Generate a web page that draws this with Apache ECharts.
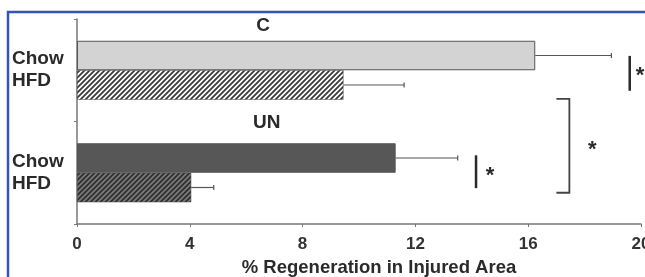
<!DOCTYPE html>
<html>
<head>
<meta charset="utf-8">
<script src="https://cdn.jsdelivr.net/npm/echarts@6/dist/echarts.min.js"></script>
<style>
  html, body { margin: 0; padding: 0; background: #fff; }
  #chart { width: 645px; height: 277px; }
</style>
</head>
<body>
<div id="chart"></div>
<script>
// groups top to bottom
const groups = ['C', 'UN'];
const chowMean = [16.25, 11.3];
const chowErr = [2.7, 2.2];
const hfdMean = [9.45, 4.05];
const hfdErr = [2.15, 0.8];
const xTicks = [0, 4, 8, 12, 16, 20];

// significance marks, x in %, y in category units (index + fraction of band)
const sigBars = [[19.6, -0.14, 0.2], [14.15, 0.83, 1.15]];
const sigStars = [[19.97, 0.03], [14.65, 1.0], [18.27, 0.75]];
const sigBracket = [[17.0, 17.46, 0.28, 1.195]];
const groupTitles = [[6.6, -0.43, 'C'], [6.73, 0.515, 'UN']];

const barW = 29.5;
const font = '"Liberation Sans", Arial, sans-serif';

function hatch(bg, fg) {
  const c = document.createElement('canvas');
  c.width = 5; c.height = 5;
  const g = c.getContext('2d');
  g.fillStyle = bg;
  g.fillRect(0, 0, 5, 5);
  g.strokeStyle = fg;
  g.lineWidth = 1.8;
  g.beginPath();
  g.moveTo(-1, 6); g.lineTo(6, -1);
  g.moveTo(-1, 1); g.lineTo(1, -1);
  g.moveTo(4, 6); g.lineTo(6, 4);
  g.stroke();
  return c;
}

const chowColors = ['#d3d3d3', '#575757'];
const hfdColors = [
  {image: hatch('#ffffff', '#3a3a3a'), repeat: 'repeat'},
  {image: hatch('#2e2e2e', '#7a7a7a'), repeat: 'repeat'}
];

const errData = [];
groups.forEach((g, i) => {
  errData.push([i, chowMean[i], chowErr[i], 0]);
  errData.push([i, hfdMean[i], hfdErr[i], 1]);
});

// category axis snaps to whole indices, so add the fraction of the band by hand
function place(api, x, yCat) {
  const base = Math.round(yCat);
  const p = api.coord([x, base]);
  return [p[0], p[1] + (yCat - base) * api.size([0, 1])[1]];
}

const chart = echarts.init(document.getElementById('chart'));

const option = {
  animation: false,
  backgroundColor: '#fff',
  grid: {left: 77, right: 4, top: 19, bottom: 53, containLabel: false, outerBoundsMode: 'none'},
  xAxis: {
    type: 'value',
    min: 0,
    max: 20,
    interval: 4,
    axisLine: {show: true, lineStyle: {color: '#777', width: 1.5}},
    axisTick: {show: true, length: 3, lineStyle: {color: '#777'}},
    splitLine: {show: false},
    axisLabel: {
      margin: 12,
      color: '#333',
      fontFamily: font,
      fontWeight: 'bold',
      fontSize: 17
    }
  },
  yAxis: {
    type: 'category',
    data: groups,
    inverse: true,
    axisLine: {show: true, lineStyle: {color: '#777', width: 1.5}},
    axisTick: {show: true, length: 3, lineStyle: {color: '#777'}},
    axisLabel: {
      formatter: () => 'Chow\nHFD',
      align: 'left',
      margin: 65,
      color: '#2a2a2a',
      fontFamily: font,
      fontWeight: 'bold',
      fontSize: 19,
      lineHeight: 22
    }
  },
  graphic: [
    {
      type: 'rect',
      shape: {x: 8, y: 12, width: 700, height: 300},
      style: {fill: null, stroke: '#3553b3', lineWidth: 2.5},
      silent: true
    },
    {
      type: 'text',
      x: 379,
      y: 268,
      style: {
        text: '% Regeneration in Injured Area',
        font: 'bold 18.5px ' + font,
        fill: '#2a2a2a',
        align: 'center',
        verticalAlign: 'middle'
      }
    }
  ],
  series: [
    {
      name: 'Chow',
      type: 'bar',
      barWidth: barW,
      barGap: '0%',
      data: chowMean.map((v, i) => ({
        value: v,
        itemStyle: {color: chowColors[i], borderColor: '#555', borderWidth: 1}
      }))
    },
    {
      name: 'HFD',
      type: 'bar',
      barWidth: barW,
      barGap: '0%',
      data: hfdMean.map((v, i) => ({
        value: v,
        itemStyle: {color: hfdColors[i], borderColor: '#444', borderWidth: 0.5}
      }))
    },
    {
      // error bars, right side only
      type: 'custom',
      data: errData,
      encode: {x: 1, y: 0},
      z: 3,
      renderItem: (params, api) => {
        const cat = api.value(0);
        const mean = api.value(1);
        const err = api.value(2);
        const slot = api.value(3);
        const p0 = api.coord([mean, cat]);
        const p1 = api.coord([mean + err, cat]);
        const dy = slot === 0 ? -barW / 2 : barW / 2;
        const y = p0[1] + dy;
        return {
          type: 'group',
          children: [
            {type: 'line', shape: {x1: p0[0], y1: y, x2: p1[0], y2: y},
              style: {stroke: '#555', lineWidth: 1.2}},
            {type: 'line', shape: {x1: p1[0], y1: y - 2.5, x2: p1[0], y2: y + 2.5},
              style: {stroke: '#555', lineWidth: 1.2}}
          ]
        };
      }
    },
    {
      // significance bars
      type: 'custom',
      data: sigBars,
      encode: {x: 0},
      renderItem: (params, api) => {
        const d = sigBars[params.dataIndex];
        const a = place(api, d[0], d[1]);
        const b = place(api, d[0], d[2]);
        return {type: 'line', shape: {x1: a[0], y1: a[1], x2: b[0], y2: b[1]},
          style: {stroke: '#2a2a2a', lineWidth: 2.5}};
      }
    },
    {
      // bracket between groups
      type: 'custom',
      data: sigBracket,
      encode: {x: 0},
      renderItem: (params, api) => {
        const d = sigBracket[params.dataIndex];
        const pts = [
          place(api, d[0], d[2]),
          place(api, d[1], d[2]),
          place(api, d[1], d[3]),
          place(api, d[0], d[3])
        ];
        return {type: 'polyline', shape: {points: pts},
          style: {stroke: '#444', lineWidth: 1.8, fill: null}};
      }
    },
    {
      // stars
      type: 'custom',
      data: sigStars,
      encode: {x: 0},
      renderItem: (params, api) => {
        const d = sigStars[params.dataIndex];
        const p = place(api, d[0], d[1]);
        return {type: 'text', x: p[0], y: p[1] + 3,
          style: {text: '*', font: 'bold 22px ' + font, fill: '#2a2a2a',
            align: 'center', verticalAlign: 'middle'}};
      }
    },
    {
      // group titles
      type: 'custom',
      data: groupTitles,
      encode: {x: 0},
      renderItem: (params, api) => {
        const d = groupTitles[params.dataIndex];
        const p = place(api, d[0], d[1]);
        return {type: 'text', x: p[0], y: p[1],
          style: {text: d[2], font: 'bold 19px ' + font, fill: '#2a2a2a',
            align: 'center', verticalAlign: 'middle'}};
      }
    }
  ]
};

chart.setOption(option);
</script>
</body>
</html>
